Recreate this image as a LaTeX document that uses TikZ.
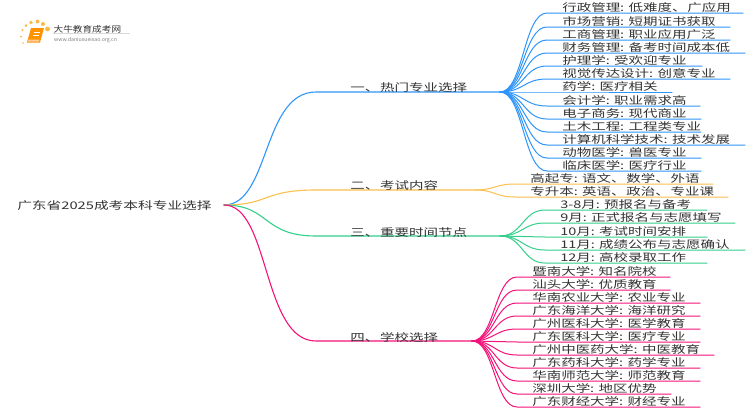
\documentclass[tikz,border=0pt]{standalone}
\usepackage{fontspec}
\setmainfont{Noto Sans CJK SC}
\usetikzlibrary{calc}
\definecolor{cblue}{HTML}{2E96FA}
\definecolor{corange}{HTML}{FBC04E}
\definecolor{cgreen}{HTML}{35CF8C}
\definecolor{cpink}{HTML}{F5127A}
\definecolor{ctext}{HTML}{333333}
\newcommand{\dn}{、\kern0.6pt }
\tikzset{
  x=1pt,y=-1pt,
  txt/.style={inner sep=0pt,anchor=base west,text=ctext,font=\fontsize{10.5}{12}\selectfont,xscale=1.38},
  wire/.style={line width=1pt,line cap=round},
  trunk/.style={line width=1.1pt,line cap=round},
}
\newcommand{\leafitem}[7]{% hub, colour, name, y, endx, startx, text
  \coordinate (#3) at (#6,#4);
  \coordinate (#3e) at (#5,#4);
  \draw[wire,#2] (#1) .. controls ($(#1)!0.5!(#3|-#1)$) and ($(#1|-#3)!0.5!(#3)$) .. (#3) -- (#3e);
  \node[txt] (#3t) at ($(#3)+(15,-2)$) {#7};
}
\begin{document}
\begin{tikzpicture}
\useasboundingbox (0,0) rectangle (750,410);
\fill[white] (0,0) rectangle (750,410);
% logo
\foreach \a/\b/\r in {23/43/.8,21/36.5/1,22.5/30/1.2,26/25.5/1.5,31/22.5/1.8,37.5/21.5/2,43/24/2,47.5/29/2.4}
  \fill[corange!90!orange] (\a,\b) circle (\r);
\fill[orange!85!yellow] (31,28) -- (44,28) -- (40,42.5) -- (27,42.5) -- cycle;
\fill[white!60!orange] (28,39.5) -- (39.5,39.5) -- (39,41.5) -- (28,41.5) -- cycle;
\draw[white,line width=.6pt] (34,32) -- (40,32) (33,35) -- (39,35);
\node[inner sep=0pt,anchor=base west,text=ctext,font=\fontsize{8.3}{10}\selectfont,xscale=1.16] (logo) at (53.5,32) {大牛教育成考网};
\node[inner sep=0pt,anchor=base west,text=gray,font=\fontsize{5.2}{6}\selectfont] (url) at (54,41) {www.daniuxueixao.org.cn};
\draw[black!15,line width=.5pt] (53,33.5) -- (130,33.5);
% root
\node[txt,xscale=1.4/1.38] (root) at (17,209.3) {广东省2025成考本科专业选择};
\coordinate (r) at (224,205);
% branches
\coordinate (b1) at (316,92);\coordinate (h1) at (500,92);
\coordinate (b2) at (316,190);\coordinate (h2) at (475,190);
\coordinate (b3) at (316,236);\coordinate (h3) at (500,236);
\coordinate (b4) at (316,341);\coordinate (h4) at (472,341);
\draw[trunk,cblue] (r) .. controls (270,205) and (262,92) .. (b1) -- (h1);
\draw[trunk,corange] (r) .. controls (270,205) and (262,190) .. (b2) -- (h2);
\draw[trunk,cgreen] (r) .. controls (270,205) and (262,236) .. (b3) -- (h3);
\draw[trunk,cpink] (r) .. controls (270,205) and (262,341) .. (b4) -- (h4);
\node[txt] (n1) at (350,91) {一\dn 热门专业选择};
\node[txt] (n2) at (350,189) {二\dn 考试内容};
\node[txt] (n3) at (350,236) {三\dn 重要时间节点};
\node[txt] (n4) at (350,341) {四\dn 学校选择};
% blue
\foreach \n/\y/\e/\t in {a1/13/743/行政管理: 低难度\dn 广应用,a2/27/730/市场营销: 短期证书获取,a3/40/730/工商管理: 职业应用广泛,a4/53/745/财务管理: 备考时间成本低,a5/66/702/护理学: 受欢迎专业,a6/79/730/视觉传达设计: 创意专业,a7/92/672/药学: 医疗相关,a8/106/700/会计学: 职业需求高,a9/119/701/电子商务: 现代商业,a10/132/701/土木工程: 工程类专业,a11/145/745/计算机科学技术: 技术发展,a12/158/701/动物医学: 兽医专业,a13/171/701/临床医学: 医疗行业}
  {\leafitem{h1}{cblue}{\n}{\y}{\e}{547}{\t}}
% orange
\foreach \n/\y/\e/\t in {b1x/184/713/高起专: 语文\dn 数学\dn 外语,b2x/197/728/专升本: 英语\dn 政治\dn 专业课}
  {\leafitem{h2}{corange}{\n}{\y}{\e}{515}{\t}}
% green
\foreach \n/\y/\e/\t in {c1/210/707/3-8月: 预报名与备考,c2/223/735/9月: 正式报名与志愿填写,c3/237/707/10月: 考试时间安排,c4/250/745/11月: 成绩公布与志愿确认,c5/263/707/12月: 高校录取工作}
  {\leafitem{h3}{cgreen}{\n}{\y}{\e}{545}{\t}}
% pink
\foreach \n/\y/\e/\t in {d1/277/670/暨南大学: 知名院校,d2/290/670/汕头大学: 优质教育,d3/303/700/华南农业大学: 农业专业,d4/316/700/广东海洋大学: 海洋研究,d5/329/700/广州医科大学: 医学教育,d6/342/700/广东医科大学: 医疗专业,d7/355/714/广州中医药大学: 中医教育,d8/368/700/广东药科大学: 药学专业,d9/381/700/华南师范大学: 师范教育,d10/394/671/深圳大学: 地区优势,d11/407/700/广东财经大学: 财经专业}
  {\leafitem{h4}{cpink}{\n}{\y}{\e}{517}{\t}}
\end{tikzpicture}
\end{document}
